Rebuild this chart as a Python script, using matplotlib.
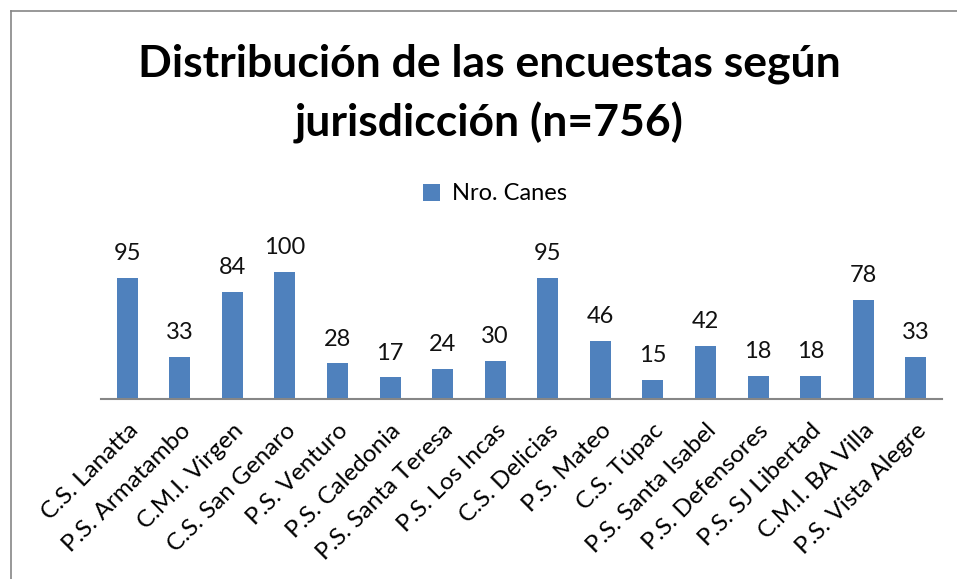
import matplotlib
matplotlib.use("Agg")
import matplotlib.pyplot as plt
from matplotlib.lines import Line2D

# data
centros = ["C.S. Lanatta", "P.S. Armatambo", "C.M.I. Virgen", "C.S. San Genaro",
           "P.S. Venturo", "P.S. Caledonia", "P.S. Santa Teresa", "P.S. Los Incas",
           "C.S. Delicias", "P.S. Mateo", "C.S. Túpac", "P.S. Santa Isabel",
           "P.S. Defensores", "P.S. SJ Libertad", "C.M.I. BA Villa", "P.S. Vista Alegre"]
canes = [95, 33, 84, 100, 28, 17, 24, 30, 95, 46, 15, 42, 18, 18, 78, 33]
serie = "Nro. Canes"
titulo = ["Distribución de las encuestas según", "jurisdicción (n=756)"]

plt.rcParams['font.family'] = ['Lato', 'DejaVu Sans']

W, H = 957, 579
fig = plt.figure(figsize=(W / 100, H / 100), dpi=100)
ax = fig.add_axes([101 / W, (H - 399) / H, (942 - 101) / W, (399 - 246.6) / H])

x = range(len(centros))
bars = ax.bar(x, canes, width=0.4, color='#4F81BD', label=serie)
ax.set_xlim(-0.5, len(centros) - 0.5)
ax.set_ylim(0, 120)

for xi, v in zip(x, canes):
    ax.annotate(str(v), (xi, v), xytext=(0, 10), textcoords='offset points',
                ha='center', va='bottom', fontsize=17, color='#111111')

ax.set_xticks(list(x))
ax.set_xticklabels(centros, rotation=45, ha='right', va='top',
                   rotation_mode='anchor', fontsize=17.5)
ax.tick_params(axis='x', length=0, pad=15)
ax.set_yticks([])
for s in ['top', 'right', 'left']:
    ax.spines[s].set_visible(False)
ax.spines['bottom'].set_color('#868686')
ax.spines['bottom'].set_linewidth(1.5)

# two title lines, placed by baseline
for linea, base in zip(titulo, [77, 137]):
    fig.text(489 / W, 1 - base / H, linea, ha='center', va='baseline',
             fontsize=32, fontweight='bold')

fig.legend(handles=[bars], labels=[serie], loc='center', bbox_to_anchor=(495 / W, 1 - 194 / H),
           frameon=False, fontsize=17, handlelength=0.7, handleheight=0.7, handletextpad=0.5)

# chart frame (only top and left edges visible in the crop)
fig.add_artist(Line2D([11 / W, 11 / W], [1 - 11 / H, 0], color='#868686', lw=1.2))
fig.add_artist(Line2D([11 / W, 1], [1 - 11 / H, 1 - 11 / H], color='#868686', lw=1.2))

fig.savefig("out.png", dpi=100)
